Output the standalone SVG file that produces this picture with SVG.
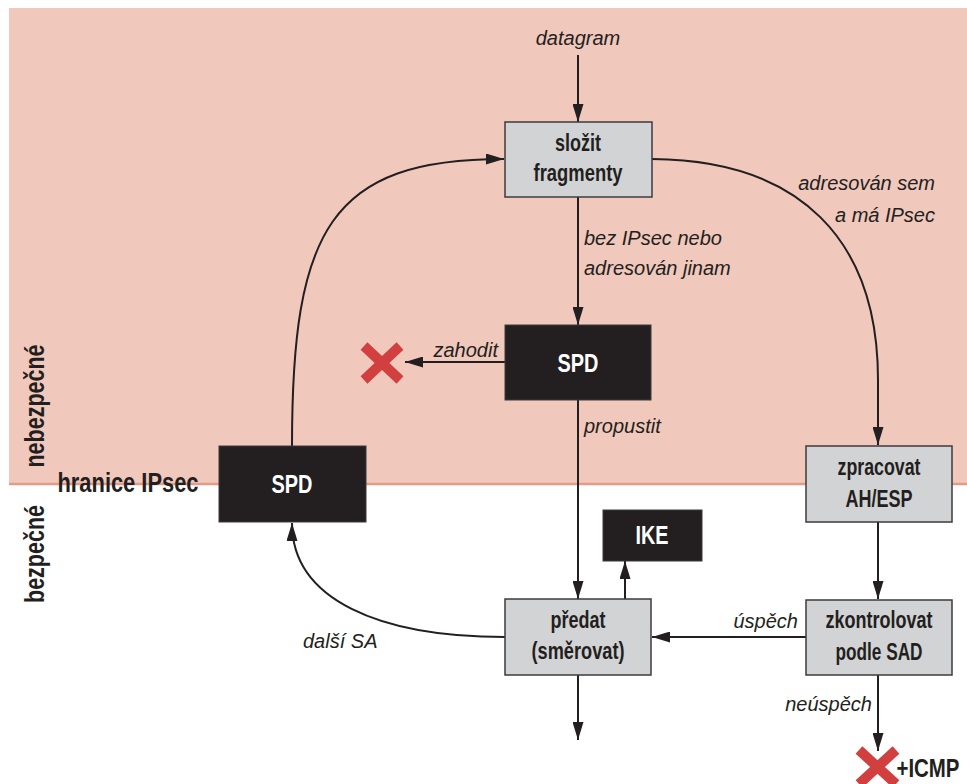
<svg xmlns="http://www.w3.org/2000/svg" width="967" height="784" viewBox="0 0 967 784">
<defs>
<style>
.bg{fill:#f1c8bc}
.zone{stroke:#e59a88;stroke-width:2.5}
.gray{fill:#d2d3d5;stroke:#3d3b3c;stroke-width:1.5}
.black{fill:#231f20;stroke:#3d3b3c;stroke-width:1}
.b{font-family:"Liberation Sans","Arial",sans-serif;font-weight:bold;fill:#231f20;text-anchor:middle}
.w{fill:#ffffff}
.lbl{font-family:"Liberation Sans","Arial",sans-serif;font-style:italic;font-size:20px;fill:#231f20}
.c{fill:none;stroke:#231f20;stroke-width:2}
.x{stroke:#d13f3f;stroke-width:10;stroke-linecap:butt}
</style>
<marker id="ah" viewBox="0 0 18 11" markerWidth="18" markerHeight="11" refX="18" refY="5.5" orient="auto" markerUnits="userSpaceOnUse">
<path d="M0,0 L18,5.5 L0,11 z" fill="#231f20"/>
</marker>
</defs>
<rect class="bg" x="9" y="8" width="958" height="476"/>
<line class="zone" x1="9" y1="484" x2="967" y2="484"/>
<text class="b" font-size="27" transform="translate(44,406) rotate(-90)" textLength="123" lengthAdjust="spacingAndGlyphs">nebezpečné</text>
<text class="b" font-size="27" transform="translate(44,554) rotate(-90)" textLength="98" lengthAdjust="spacingAndGlyphs">bezpečné</text>
<text class="b" font-size="27" x="128" y="492" textLength="141" lengthAdjust="spacingAndGlyphs">hranice IPsec</text>
<g id="connectors">
<line class="c" x1="578" y1="55" x2="578" y2="122" marker-end="url(#ah)"/>
<line class="c" x1="578" y1="197" x2="578" y2="325" marker-end="url(#ah)"/>
<line class="c" x1="505" y1="362" x2="405" y2="362" marker-end="url(#ah)"/>
<line class="c" x1="578" y1="400" x2="578" y2="599" marker-end="url(#ah)"/>
<line class="c" x1="625" y1="599" x2="625" y2="561" marker-end="url(#ah)"/>
<line class="c" x1="578" y1="675" x2="578" y2="740" marker-end="url(#ah)"/>
<line class="c" x1="806" y1="637" x2="652" y2="637" marker-end="url(#ah)"/>
<line class="c" x1="878" y1="522" x2="878" y2="599" marker-end="url(#ah)"/>
<line class="c" x1="878" y1="675" x2="878" y2="751" marker-end="url(#ah)"/>
<path class="c" d="M652,159 C800,160 878,240 878,380 L878,445" marker-end="url(#ah)"/>
<path class="c" d="M292,446 C292,230 330,159 504,159" marker-end="url(#ah)"/>
<path class="c" d="M505,637 C380,637 292,600 292,523" marker-end="url(#ah)"/>
<text class="lbl" x="578" y="45" text-anchor="middle">datagram</text>
<text class="lbl" x="584" y="245">bez IPsec nebo</text>
<text class="lbl" x="584" y="275">adresován jinam</text>
<text class="lbl" x="935" y="190" text-anchor="end">adresován sem</text>
<text class="lbl" x="935" y="222" text-anchor="end">a má IPsec</text>
<text class="lbl" x="498" y="357" text-anchor="end">zahodit</text>
<text class="lbl" x="584" y="433">propustit</text>
<text class="lbl" x="798" y="628" text-anchor="end">úspěch</text>
<text class="lbl" x="872" y="711" text-anchor="end">neúspěch</text>
<text class="lbl" x="303" y="648">další SA</text>
</g>
<g id="drop1">
<line class="x" x1="364" y1="346" x2="400" y2="380"/>
<line class="x" x1="400" y1="346" x2="364" y2="380"/>
</g>
<g id="drop2">
<line class="x" x1="859" y1="750" x2="896" y2="784"/>
<line class="x" x1="896" y1="750" x2="859" y2="784"/>
<text class="b" font-size="26" x="928" y="777" textLength="63" lengthAdjust="spacingAndGlyphs">+ICMP</text>
</g>
<g id="slozit">
<rect class="gray" x="505" y="122" width="147" height="75"/>
<text class="b" font-size="24" x="578" y="151" textLength="46" lengthAdjust="spacingAndGlyphs">složit</text>
<text class="b" font-size="24" x="578" y="181" textLength="89" lengthAdjust="spacingAndGlyphs">fragmenty</text>
</g>
<g id="spd-top">
<rect class="black" x="505" y="325" width="146" height="75"/>
<text class="b w" font-size="26" x="578" y="372" textLength="41" lengthAdjust="spacingAndGlyphs">SPD</text>
</g>
<g id="spd-left">
<rect class="black" x="219" y="446" width="147" height="76"/>
<text class="b w" font-size="26" x="292" y="493" textLength="41" lengthAdjust="spacingAndGlyphs">SPD</text>
</g>
<g id="zpracovat">
<rect class="gray" x="806" y="446" width="146" height="76"/>
<text class="b" font-size="24" x="879" y="475" textLength="83" lengthAdjust="spacingAndGlyphs">zpracovat</text>
<text class="b" font-size="24" x="879" y="507" textLength="67" lengthAdjust="spacingAndGlyphs">AH/ESP</text>
</g>
<g id="zkontrolovat">
<rect class="gray" x="806" y="600" width="146" height="75"/>
<text class="b" font-size="24" x="879" y="628" textLength="107" lengthAdjust="spacingAndGlyphs">zkontrolovat</text>
<text class="b" font-size="24" x="879" y="660" textLength="87" lengthAdjust="spacingAndGlyphs">podle SAD</text>
</g>
<g id="predat">
<rect class="gray" x="505" y="599" width="146" height="76"/>
<text class="b" font-size="24" x="578" y="628" textLength="55" lengthAdjust="spacingAndGlyphs">předat</text>
<text class="b" font-size="24" x="578" y="659" textLength="93" lengthAdjust="spacingAndGlyphs">(směrovat)</text>
</g>
<g id="ike">
<rect class="black" x="603" y="510" width="99" height="51"/>
<text class="b w" font-size="26" x="652" y="544" textLength="33" lengthAdjust="spacingAndGlyphs">IKE</text>
</g>
</svg>
